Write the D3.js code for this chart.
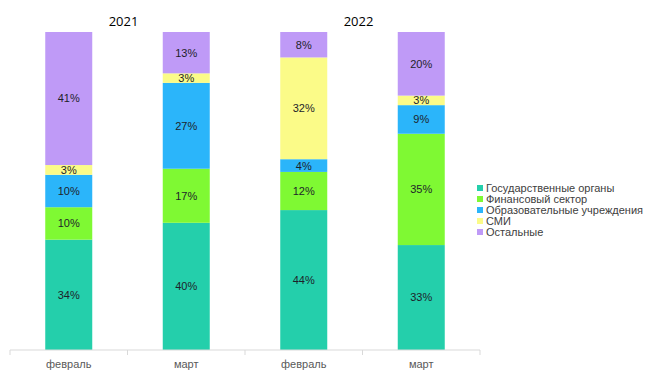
<!DOCTYPE html>
<html><head><meta charset="utf-8">
<script src="https://cdn.jsdelivr.net/npm/d3@7"></script>
<style>body{margin:0;background:#fff}svg{display:block}</style>
</head><body>
<svg id="c" width="653" height="378"></svg>
<script>
const categories = ["февраль", "март", "февраль", "март"];
const years = ["2021", "2022"];
const seriesNames = ["Государственные органы", "Финансовый сектор", "Образовательные учреждения", "СМИ", "Остальные"];
const gov   = [34, 40, 44, 33];
const fin   = [10, 17, 12, 35];
const edu   = [10, 27, 4, 9];
const media = [3, 3, 32, 3];
const other = [41, 13, 8, 20];
const colors = ["#24cfab", "#7ff933", "#2bb5fa", "#fbfb88", "#bf9af7"];

const seriesValues = [gov, fin, edu, media, other];
const keys = seriesNames;
const rows = categories.map((c, i) => {
  const r = {idx: i};
  keys.forEach((k, j) => r[k] = seriesValues[j][i]);
  return r;
});

const svg = d3.select("#c");
const x = d3.scaleBand().domain(d3.range(categories.length)).range([10, 480]).paddingInner(0.6).paddingOuter(0.3);
const y = d3.scaleLinear().domain([0, 1]).range([350, 32]);
const color = d3.scaleOrdinal().domain(keys).range(colors);

const stack = d3.stack().keys(keys).offset(d3.stackOffsetExpand);
const stacked = stack(rows);

const g = svg.append("g");
stacked.forEach(layer => {
  g.selectAll(null).data(layer).enter().append("rect")
    .attr("x", d => x(d.data.idx))
    .attr("width", x.bandwidth())
    .attr("y", d => y(d[1]))
    .attr("height", d => y(d[0]) - y(d[1]))
    .attr("fill", color(layer.key));
});
stacked.forEach(layer => {
  g.selectAll(null).data(layer).enter().append("text")
    .attr("x", d => x(d.data.idx) + x.bandwidth() / 2)
    .attr("y", d => (y(d[0]) + y(d[1])) / 2)
    .attr("dy", "0.36em")
    .attr("text-anchor", "middle")
    .attr("font-family", "Liberation Sans, Arial, sans-serif")
    .attr("font-size", 11)
    .attr("fill", "#1e1e2a")
    .text(d => d.data[layer.key] + "%");
});

// axis
const axisG = svg.append("g").attr("transform", "translate(0,350)");
axisG.append("line").attr("x1", 10).attr("x2", 480).attr("stroke", "#d9d9d9");
const bounds = d3.range(categories.length + 1).map(i => x.range()[0] + i * x.step());
axisG.selectAll(null).data(bounds).enter().append("line")
  .attr("x1", d => d).attr("x2", d => d).attr("y1", 0).attr("y2", 5).attr("stroke", "#d9d9d9");
axisG.selectAll(null).data(categories).enter().append("text")
  .attr("x", (d, i) => x(i) + x.bandwidth() / 2)
  .attr("y", 14)
  .attr("dy", "0.36em")
  .attr("text-anchor", "middle")
  .attr("font-family", "Liberation Sans, Arial, sans-serif")
  .attr("font-size", 11)
  .attr("fill", "#595959")
  .text(d => d);

// year labels
svg.selectAll(null).data(years).enter().append("text")
  .attr("x", (d, i) => (x(i * 2) + x(i * 2 + 1) + x.bandwidth()) / 2 - 4)
  .attr("y", 26)
  .attr("text-anchor", "middle")
  .attr("font-family", "Open Sans, sans-serif")
  .attr("font-size", 13)
  .attr("fill", "#000")
  .text(d => d);

// legend
const leg = svg.append("g").attr("transform", "translate(477,188)");
const li = leg.selectAll(null).data(keys).enter().append("g")
  .attr("transform", (d, i) => `translate(0,${i * 11})`);
li.append("rect").attr("x", 0).attr("y", -3).attr("width", 6).attr("height", 6).attr("fill", d => color(d));
li.append("text").attr("x", 9).attr("y", 0).attr("dy", "0.36em")
  .attr("font-family", "Liberation Sans, Arial, sans-serif")
  .attr("font-size", 11).attr("fill", "#404040").text(d => d);
</script>
</body></html>
